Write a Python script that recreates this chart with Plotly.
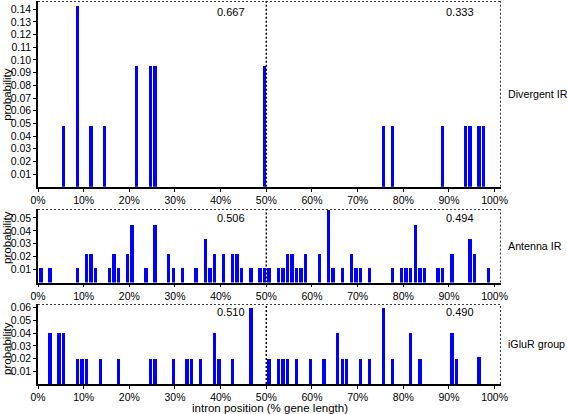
import plotly.graph_objects as go

# ---------------- data ----------------
# Divergent IR
div_pos = [6, 9, 12, 15, 22, 25, 26, 50, 76, 78, 89, 94, 95, 97, 98]
div_prob = [0.0476, 0.1429, 0.0476, 0.0476, 0.0952, 0.0952, 0.0952, 0.0952,
            0.0476, 0.0476, 0.0476, 0.0476, 0.0476, 0.0476, 0.0476]

# Antenna IR
ant_pos = [1, 3, 9, 11, 12, 13, 16, 17, 18, 20, 21, 24, 26, 29, 30, 32, 35, 37, 38, 39,
           41, 43, 44, 45, 47, 49, 50, 51, 53, 54, 55, 56, 57, 58, 59, 62, 64, 65, 67, 69,
           70, 71, 73, 78, 80, 81, 82, 83, 84, 85, 88, 89, 91, 95, 96, 99]
ant_prob = [0.0112, 0.0112, 0.0112, 0.0225, 0.0225, 0.0112, 0.0112, 0.0225, 0.0112, 0.0225,
            0.0449, 0.0112, 0.0449, 0.0225, 0.0112, 0.0112, 0.0112, 0.0337, 0.0112, 0.0225,
            0.0225, 0.0225, 0.0225, 0.0112, 0.0112, 0.0112, 0.0112, 0.0112, 0.0112, 0.0112,
            0.0225, 0.0225, 0.0112, 0.0112, 0.0225, 0.0225, 0.0562, 0.0112, 0.0112, 0.0225,
            0.0112, 0.0112, 0.0112, 0.0112, 0.0112, 0.0112, 0.0112, 0.0449, 0.0112, 0.0112,
            0.0112, 0.0112, 0.0225, 0.0337, 0.0225, 0.0112]

# iGluR group
igl_pos = [3, 5, 6, 9, 10, 11, 14, 18, 25, 26, 30, 33, 34, 36, 39, 40, 43, 47,
           51, 53, 54, 55, 57, 60, 63, 66, 67, 68, 71, 73, 76, 78, 82, 84, 91, 92, 97]
igl_prob = [0.04, 0.04, 0.04, 0.02, 0.02, 0.02, 0.02, 0.02, 0.02, 0.02, 0.02, 0.02, 0.02,
            0.02, 0.04, 0.02, 0.02, 0.06,
            0.02, 0.02, 0.02, 0.02, 0.02, 0.02, 0.02, 0.04, 0.02, 0.02, 0.02, 0.02, 0.06,
            0.02, 0.04, 0.02, 0.04, 0.02, 0.021]

panel_names = ["Divergent IR", "Antenna IR", "iGluR group"]
left_frac = ["0.667", "0.506", "0.510"]
right_frac = ["0.333", "0.494", "0.490"]
y_max = [0.1465, 0.057, 0.063]
y_ticks = [[round(0.01 * i, 2) for i in range(1, 15)],
           [0.01, 0.02, 0.03, 0.04, 0.05],
           [0.01, 0.02, 0.03, 0.04, 0.05, 0.06]]
x_ticks = list(range(0, 101, 10))
SPLIT = 50
X_MAX = 101.4

# ---------------- figure ----------------
FONT = "Liberation Sans, Arial, sans-serif"
BLUE = "#0000ff"
domains = [[0.515, 1.0], [0.265, 0.457], [0.0, 0.209]]
series = [(div_pos, div_prob), (ant_pos, ant_prob), (igl_pos, igl_prob)]
frac_y = [0.94, 0.88, 0.90]
prob_y = [0.5, 0.62, 0.45]

fig = go.Figure()
layout = dict(
    width=567, height=414,
    margin=dict(l=38, r=66, t=1, b=30),
    paper_bgcolor="white", plot_bgcolor="white",
    showlegend=False, bargap=0,
    font=dict(family=FONT, size=10, color="black"),
)
shapes = []
annotations = []
for i, ((px, py), dom) in enumerate(zip(series, domains)):
    n = "" if i == 0 else str(i + 1)
    xa, ya = "x" + n, "y" + n
    fig.add_trace(go.Bar(x=px, y=py, xaxis=xa, yaxis=ya, width=0.75, offset=-0.75,
                         marker=dict(color=BLUE, line=dict(width=0))))
    layout["xaxis" + n] = dict(
        domain=[0, 1], anchor=ya, range=[0, X_MAX], tickvals=x_ticks,
        ticktext=[f"{v}%" for v in x_ticks], ticks="outside", ticklen=3,
        tickwidth=1, tickcolor="black", showline=True, linecolor="black", linewidth=1.5,
        showgrid=False, zeroline=False, tickfont=dict(size=10.5), automargin=False)
    layout["yaxis" + n] = dict(
        domain=dom, anchor=xa, range=[0, y_max[i]], tickvals=y_ticks[i],
        tickformat=".2f", ticks="outside", ticklen=3, tickwidth=1, tickcolor="black",
        showline=True, linecolor="black", linewidth=1.5, showgrid=False,
        zeroline=False, tickfont=dict(size=10.5), automargin=False)
    dot = dict(color="black", width=1.5, dash="2px,2px")
    shapes += [
        dict(type="line", xref=xa, yref=ya, x0=0, x1=X_MAX, y0=y_max[i], y1=y_max[i], line=dot),
        dict(type="line", xref=xa, yref=ya, x0=X_MAX, x1=X_MAX, y0=0, y1=y_max[i], line=dot),
        dict(type="line", xref=xa, yref=ya, x0=SPLIT, x1=SPLIT, y0=0, y1=y_max[i], line=dot),
    ]
    annotations += [
        dict(text=left_frac[i], xref=xa, yref=ya + " domain", x=42.3, y=frac_y[i],
             xanchor="center", yanchor="middle", showarrow=False, font=dict(size=11)),
        dict(text=right_frac[i], xref=xa, yref=ya + " domain", x=92.5, y=frac_y[i],
             xanchor="center", yanchor="middle", showarrow=False, font=dict(size=11)),
        dict(text=panel_names[i], xref="paper", yref=ya + " domain", x=1.011, y=0.5,
             xanchor="left", yanchor="middle", showarrow=False, font=dict(size=10.7)),
        dict(text="probability", xref="paper", yref=ya + " domain", x=-0.067, y=prob_y[i],
             xanchor="center", yanchor="middle", textangle=-90, showarrow=False,
             font=dict(size=11.5)),
    ]
annotations.append(dict(text="intron position (% gene length)", xref="paper", yref="paper",
                        x=0.5, y=-0.063, xanchor="center", yanchor="middle",
                        showarrow=False, font=dict(size=11.5)))
layout["shapes"] = shapes
layout["annotations"] = annotations
fig.update_layout(**layout)
fig.write_html("out.html", config={"displayModeBar": False},
               post_script="document.body.style.margin='0';document.body.style.overflow='hidden';")
